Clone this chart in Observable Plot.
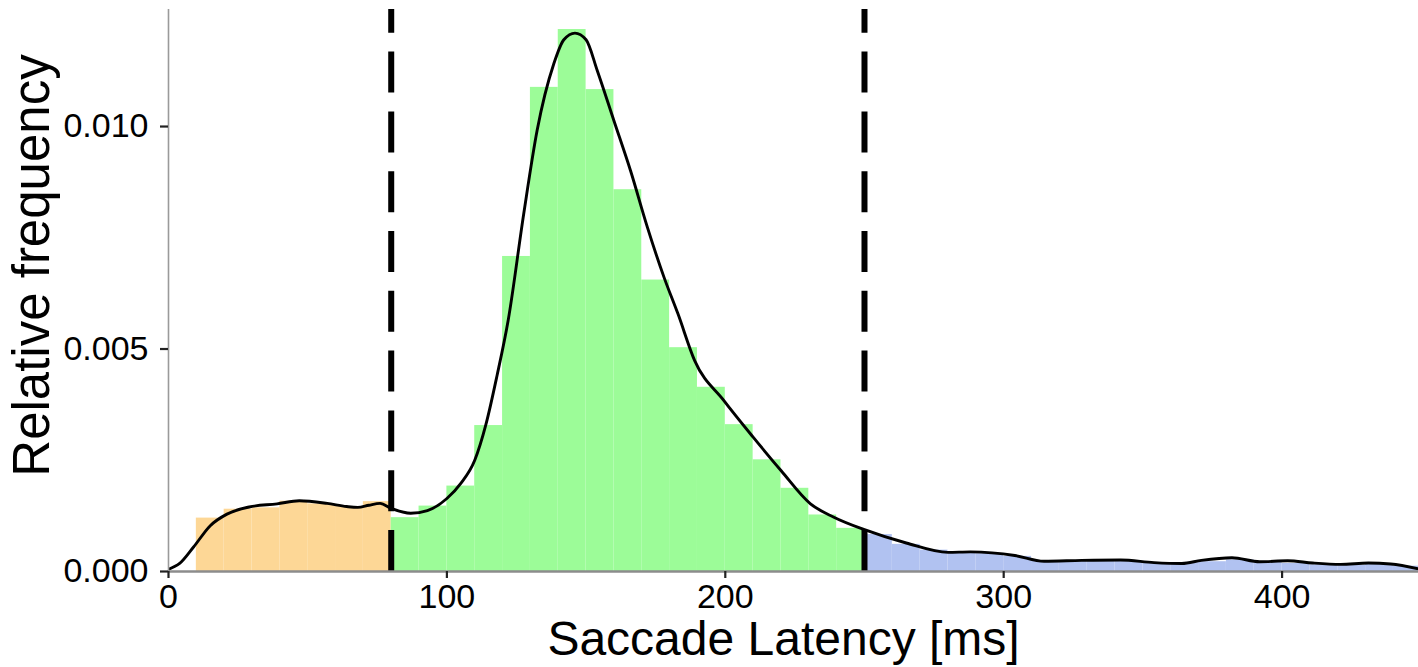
<!DOCTYPE html>
<html>
<head>
<meta charset="utf-8">
<script src="https://cdn.jsdelivr.net/npm/d3@7"></script>
<script src="https://cdn.jsdelivr.net/npm/@observablehq/plot@0.6"></script>
<style>
  html, body { margin: 0; padding: 0; background: #fff; }
  #chart svg { display: block; }
</style>
</head>
<body>
<div id="chart"></div>
<script>
// ---- data ----
const binWidth = 10;
const binStart = [10, 20, 30, 40, 50, 60, 70, 80, 90, 100, 110, 120, 130, 140, 150, 160, 170, 180, 190, 200,
                  210, 220, 230, 240, 250, 260, 270, 280, 290, 300, 310, 320, 330, 340, 350, 360, 370, 380, 390,
                  400, 410, 420, 430, 440];
const relFreq = [0.00120, 0.00140, 0.00143, 0.00158, 0.00152, 0.00146, 0.00157,
                 0.00121, 0.00147, 0.00192, 0.00328, 0.00708, 0.01088, 0.01218, 0.01083, 0.00858, 0.00655,
                 0.00503, 0.00414, 0.00330, 0.00251, 0.00187, 0.00127, 0.00097,
                 0.00083, 0.00061, 0.00048, 0.00044, 0.00040, 0.00034, 0.00024, 0.00024, 0.00026, 0.00024,
                 0.00020, 0.00020, 0.00022, 0.00026, 0.00021, 0.00018, 0.00015, 0.00014, 0.00016, 0.00012];

const densX = [0, 4, 9, 15, 21, 29, 39, 47, 57, 64, 68, 72, 76, 80, 87, 93, 100, 105, 110, 114, 118, 122,
               127.6, 132.4, 138.4, 142, 146, 150, 154, 160, 166, 172, 178, 183, 189, 199.5, 210, 220, 230.6,
               239, 250, 265, 280, 288, 304, 314.5, 328, 342, 354, 364, 371, 382, 392, 402, 411, 421, 431, 439, 449];
const densY = [0.00005, 0.00018, 0.00055, 0.00103, 0.00129, 0.00145, 0.00152, 0.00159, 0.00153, 0.00146,
               0.00144, 0.00149, 0.00153, 0.00142, 0.00131, 0.00137, 0.00164, 0.00198, 0.00250, 0.00330,
               0.00440, 0.00564, 0.00804, 0.00991, 0.01141, 0.01195, 0.01210, 0.01195, 0.01126, 0.01013,
               0.00900, 0.00774, 0.00661, 0.00579, 0.00474, 0.00384, 0.00302, 0.00227, 0.00152, 0.00122,
               0.00094, 0.00064, 0.00043, 0.00044, 0.00036, 0.00023, 0.00025, 0.00026, 0.00020, 0.00018,
               0.00025, 0.00031, 0.00022, 0.00024, 0.00019, 0.00016, 0.00019, 0.00017, 0.00006];

const cutoffs = [80, 250];
const groups = ["express", "regular", "late"];
const groupColors = ["#FDD796", "#9CFC98", "#B1C2F1"];
const xTicks = [0, 100, 200, 300, 400];
const yTicks = [0, 0.005, 0.010];
const xTitle = "Saccade Latency [ms]";
const yTitle = "Relative frequency";

// ---- build tables ----
const bins = binStart.map((s, i) => ({
  x1: s, x2: s + binWidth, y: relFreq[i],
  group: s < cutoffs[0] ? groups[0] : s < cutoffs[1] ? groups[1] : groups[2]
}));
const dens = densX.map((x, i) => ({x, y: densY[i]}));

const xMax = 449, yMax = 0.01263;

const chart = Plot.plot({
  width: 1418,
  height: 667,
  marginLeft: 168,
  marginRight: 0,
  marginTop: 9,
  marginBottom: 96,
  style: {fontFamily: "'Liberation Sans', Arial, sans-serif", fontSize: "34px", color: "#000", background: "#fff"},
  x: {domain: [0, xMax], axis: null},
  y: {domain: [0, yMax], axis: null},
  color: {domain: groups, range: groupColors},
  marks: [
    Plot.rectY(bins, {x1: "x1", x2: "x2", y: "y", fill: "group", inset: 0, clip: true}),
    Plot.line(dens, {x: "x", y: "y", stroke: "#000", strokeWidth: 2.9, curve: "monotone-x", clip: true}),
    Plot.ruleX(cutoffs, {x: d => d, y1: 0, y2: yMax, stroke: "#000", strokeWidth: 6, strokeDasharray: "41,18.8"}),
    // axis lines
    Plot.ruleY([0], {stroke: "#8c8c8c", strokeWidth: 2.6}),
    Plot.ruleX([0], {y1: 0, y2: yMax, stroke: "#9a9a9a", strokeWidth: 1.6}),
    // axes
    Plot.axisX(xTicks, {tickSize: 7, tickPadding: 5, strokeWidth: 2.2, stroke: "#222", fill: "#000", label: null}),
    Plot.axisY(yTicks, {tickSize: 8, tickPadding: 12, strokeWidth: 2.2, stroke: "#222", fill: "#000", tickFormat: d3.format(".3f"), label: null}),
    // titles
    Plot.text([xTitle], {frameAnchor: "bottom", text: d => d, dy: 83, dx: -10, lineAnchor: "bottom", textAnchor: "middle", fontSize: 48, fill: "#000"}),
    Plot.text([yTitle], {frameAnchor: "left", text: d => d, rotate: -90, dx: -120, dy: -25, lineAnchor: "bottom", textAnchor: "middle", fontSize: 51, fill: "#000"})
  ]
});
document.getElementById("chart").appendChild(chart);
</script>
</body>
</html>
